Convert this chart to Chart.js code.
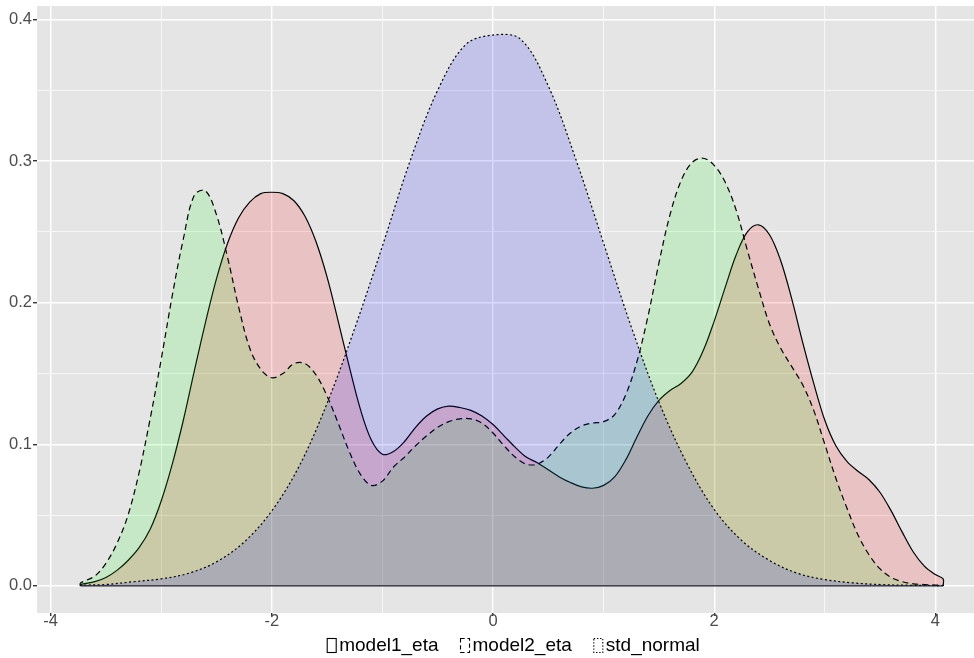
<!DOCTYPE html>
<html>
<head>
<meta charset="utf-8">
<script src="https://cdn.jsdelivr.net/npm/chart.js"></script>
<style>
  html, body { margin: 0; padding: 0; background: #fff; }
  canvas { display: block; }
</style>
</head>
<body>
<canvas id="chart" width="974" height="658"></canvas>
<script>
// density curves
const gridX = [-3.73,-3.6,-3.5,-3.4,-3.3,-3.2,-3.1,-3.0,-2.9,-2.8,
  -2.7,-2.6,-2.5,-2.4,-2.3,-2.2,-2.1,-2.0,-1.9,-1.8,
  -1.7,-1.6,-1.5,-1.4,-1.3,-1.2,-1.1,-1.0,-0.9,-0.8,
  -0.7,-0.6,-0.5,-0.4,-0.3,-0.2,-0.1,0.0,0.1,0.2,
  0.3,0.4,0.5,0.6,0.7,0.8,0.9,1.0,1.1,1.2,
  1.3,1.4,1.5,1.6,1.7,1.8,1.9,2.0,2.1,2.2,
  2.3,2.4,2.5,2.6,2.7,2.8,2.9,3.0,3.1,3.2,
  3.3,3.4,3.5,3.6,3.7,3.8,3.9,4.0,4.07]

const model1Eta = [0.001,0.003,0.006,0.011,0.018,0.027,0.04,0.06,0.086,0.117,
  0.152,0.186,0.217,0.242,0.26,0.271,0.277,0.278,0.277,0.272,
  0.261,0.243,0.218,0.187,0.155,0.125,0.103,0.093,0.095,0.102,
  0.112,0.12,0.125,0.127,0.126,0.124,0.12,0.114,0.106,0.098,
  0.091,0.087,0.082,0.077,0.073,0.07,0.069,0.071,0.077,0.089,
  0.105,0.12,0.131,0.138,0.143,0.151,0.166,0.187,0.211,0.234,
  0.25,0.255,0.248,0.23,0.203,0.172,0.143,0.117,0.099,0.088,
  0.081,0.075,0.066,0.053,0.038,0.024,0.014,0.008,0.005]

const model2Eta = [0.002,0.007,0.016,0.03,0.05,0.08,0.118,0.16,0.205,0.245,
  0.276,0.279,0.262,0.232,0.197,0.168,0.153,0.147,0.15,0.157,
  0.157,0.149,0.134,0.115,0.095,0.079,0.071,0.074,0.084,0.091,
  0.099,0.106,0.112,0.116,0.118,0.118,0.115,0.108,0.099,0.091,
  0.086,0.086,0.091,0.1,0.108,0.113,0.115,0.116,0.121,0.135,
  0.158,0.19,0.228,0.262,0.286,0.299,0.302,0.297,0.285,0.265,
  0.237,0.21,0.185,0.168,0.155,0.142,0.124,0.1,0.076,0.055,
  0.036,0.022,0.012,0.006,0.003,0.0015,0.001,0.0006,0.0005]

const stdX = [-3.73,-3.5,-3.25,-3.0,-2.75,-2.5,-2.25,-2.0,-1.75,-1.5,-1.25,-1.0,-0.75,-0.5,-0.25,
  0.0,0.25,0.5,0.75,1.0,1.25,1.5,1.75,2.0,2.25,2.5,2.75,3.0,3.25,3.5,3.75,4.07]
const stdNormal = [0.0005,0.001,0.003,0.005,0.009,0.017,0.031,0.053,0.085,0.129,0.182,0.24,0.3,0.35,0.382,
  0.389,0.386,0.353,0.301,0.242,0.183,0.13,0.087,0.054,0.032,0.018,0.009,0.0045,0.0022,0.001,0.0005,0.0002]

const seriesNames = ['model1_eta', 'model2_eta', 'std_normal']

const xLimits = [-4.123, 4.349]
const yLimits = [-0.0191, 0.4095]
const xMajor = [-4, -2, 0, 2, 4]
const xMinor = [-3, -1, 1, 3]
const yMajor = [0, 0.1, 0.2, 0.3, 0.4]
const yMinor = [0.05, 0.15, 0.25, 0.35]

const FONT = 'Liberation Sans, Arial, Helvetica, sans-serif'
const LEGEND_SLOT = 18.5   // empty room chart.js keeps in front of each legend text

// closed outline: up from the baseline, along the curve, back down
function outline(xs, ys) {
  const pts = xs.map((x, i) => ({ x: x, y: ys[i] }))
  return [{ x: xs[0], y: 0 }, ...pts, { x: xs[xs.length - 1], y: 0 }]
}

const allX = gridX.concat(stdX)
const baseline = [{ x: Math.min(...allX), y: 0 }, { x: Math.max(...allX), y: 0 }]

const panelBg = {
  id: 'panelBg',
  beforeDraw(chart) {
    const { ctx, chartArea: a } = chart
    ctx.save()
    ctx.fillStyle = '#E5E5E5'
    ctx.fillRect(a.left, a.top, a.right - a.left, a.bottom - a.top)
    ctx.restore()
  }
}

// ggplot style keys: small outlined boxes right in front of the text
const legendKeys = {
  id: 'legendKeys',
  afterDraw(chart) {
    const legend = chart.legend
    if (!legend || !legend.legendHitBoxes) return
    const { ctx } = chart
    const fontSize = legend.options.labels.font.size
    legend.legendItems.forEach((item, i) => {
      const hb = legend.legendHitBoxes[i]
      const ds = chart.data.datasets[item.datasetIndex]
      const textX = hb.left + LEGEND_SLOT + fontSize / 2
      const cy = hb.top + hb.height / 2
      ctx.save()
      ctx.fillStyle = '#FFFFFF'
      ctx.strokeStyle = '#000000'
      ctx.lineWidth = 1.1
      ctx.setLineDash(ds.borderDash ? ds.borderDash.map(d => d * 0.7) : [])
      ctx.fillRect(textX - 12, cy - 7, 9, 14)
      ctx.strokeRect(textX - 12, cy - 7, 9, 14)
      ctx.restore()
    })
  }
}

const isMajor = (list, v) => list.some(m => Math.abs(m - v) < 1e-9)

new Chart(document.getElementById('chart'), {
  type: 'line',
  data: {
    datasets: [
      {
        label: seriesNames[0],
        data: outline(gridX, model1Eta),
        backgroundColor: 'rgba(255,0,0,0.15)',
        borderColor: '#000',
        borderWidth: 1.2,
        fill: 'origin',
        order: 3
      },
      {
        label: seriesNames[1],
        data: outline(gridX, model2Eta),
        backgroundColor: 'rgba(0,255,0,0.13)',
        borderColor: '#000',
        borderWidth: 1.2,
        borderDash: [6, 4],
        fill: 'origin',
        order: 2
      },
      {
        label: seriesNames[2],
        data: outline(stdX, stdNormal),
        backgroundColor: 'rgba(0,0,255,0.15)',
        borderColor: '#000',
        borderWidth: 1.2,
        borderDash: [2, 2.5],
        fill: 'origin',
        order: 1
      },
      {
        label: 'baseline',
        data: baseline,
        borderColor: '#1a1a2a',
        borderWidth: 1.3,
        fill: false,
        order: 0
      }
    ]
  },
  options: {
    responsive: false,
    animation: false,
    devicePixelRatio: 1,
    layout: { padding: { left: 0, right: 0, top: 6, bottom: -7 } },
    elements: {
      point: { radius: 0, hoverRadius: 0 },
      line: { tension: 0.35, capBezierPoints: true }
    },
    scales: {
      x: {
        type: 'linear',
        min: xLimits[0],
        max: xLimits[1],
        afterBuildTicks: s => { s.ticks = xMajor.concat(xMinor).sort((a, b) => a - b).map(v => ({ value: v })) },
        afterFit: s => {
          s.height = 17
          s.paddingLeft = 0
          s.paddingRight = 0
        },
        border: { display: false },
        grid: {
          color: '#FFFFFF',
          lineWidth: c => isMajor(xMajor, c.tick.value) ? 1.4 : 0.7,
          tickColor: c => isMajor(xMajor, c.tick.value) ? '#333333' : 'rgba(0,0,0,0)',
          tickLength: 3
        },
        ticks: {
          autoSkip: false,
          maxRotation: 0,
          padding: -4,
          color: '#4D4D4D',
          font: { family: FONT, size: 16.5 },
          callback: v => isMajor(xMajor, v) ? String(v) : ''
        }
      },
      y: {
        min: yLimits[0],
        max: yLimits[1],
        afterBuildTicks: s => { s.ticks = yMajor.concat(yMinor).sort((a, b) => a - b).map(v => ({ value: v })) },
        afterFit: s => {
          s.width = 37
          s.paddingTop = 0
          s.paddingBottom = 0
        },
        border: { display: false },
        grid: {
          color: '#FFFFFF',
          lineWidth: c => isMajor(yMajor, c.tick.value) ? 1.4 : 0.7,
          tickColor: c => isMajor(yMajor, c.tick.value) ? '#333333' : 'rgba(0,0,0,0)',
          tickLength: 4
        },
        ticks: {
          autoSkip: false,
          padding: 1,
          color: '#4D4D4D',
          font: { family: FONT, size: 16.5 },
          callback: v => isMajor(yMajor, v) ? v.toFixed(1) : ''
        }
      }
    },
    plugins: {
      tooltip: { enabled: false },
      legend: {
        position: 'bottom',
        fullSize: false,
        labels: {
          color: '#000',
          font: { family: FONT, size: 19 },
          boxWidth: LEGEND_SLOT,
          boxHeight: 14,
          padding: 6,
          filter: item => item.datasetIndex < 3,
          sort: (a, b) => a.datasetIndex - b.datasetIndex,
          generateLabels: chart => Chart.defaults.plugins.legend.labels.generateLabels(chart)
            .map(item => Object.assign(item, {
              fillStyle: 'rgba(0,0,0,0)',
              strokeStyle: 'rgba(0,0,0,0)',
              lineWidth: 0
            }))
        }
      }
    }
  },
  plugins: [panelBg, legendKeys]
})
</script>
</body>
</html>
